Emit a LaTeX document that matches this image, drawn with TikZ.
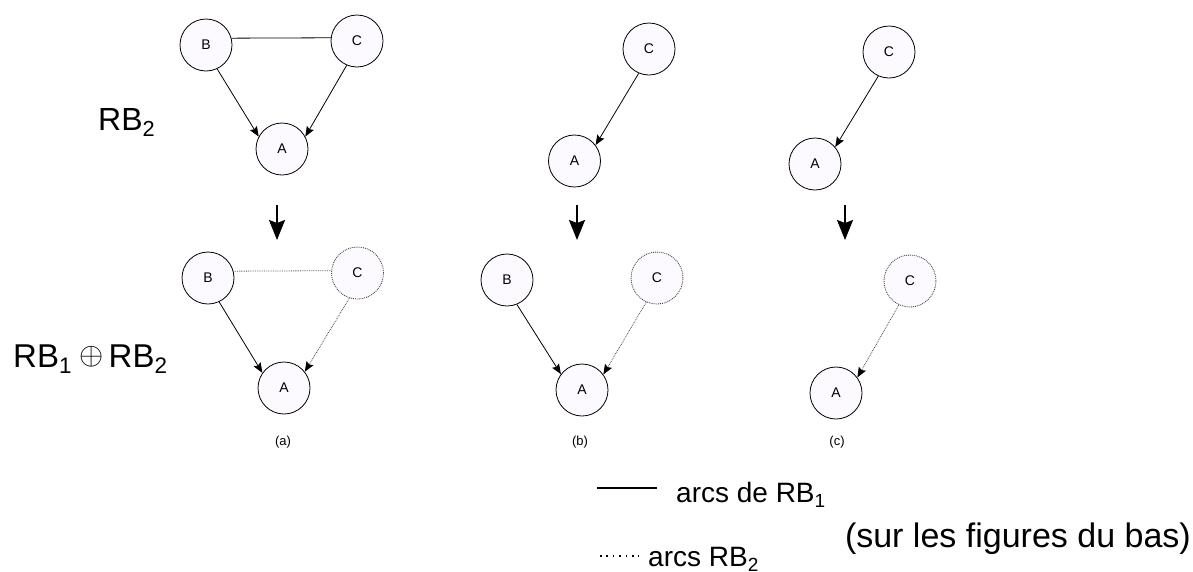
\documentclass[tikz,border=0pt]{standalone}
\usepackage{fontspec}
\setmainfont{Liberation Sans}
\usepackage{graphicx}
\usetikzlibrary{arrows.meta}
\definecolor{nodefill}{RGB}{253,250,255}
\definecolor{dotgray}{RGB}{70,70,70}
\newcommand\dn[1]{\raisebox{-0.2em}{\scalebox{0.68}{#1}}}
\begin{document}
\begin{tikzpicture}[x=1pt,y=-1pt,
  bn/.style={circle, draw, line width=0.8pt, fill=nodefill, minimum size=52pt, inner sep=0pt, font=\fontsize{14}{14}\selectfont},
  bnd/.style={bn, draw=dotgray, line width=0.9pt, densely dotted},
  arc/.style={line width=0.8pt, -{Stealth[length=10pt,width=8pt,inset=1.5pt,color=black]}},
  arcd/.style={arc, draw=dotgray, densely dotted},
  plainarc/.style={line width=0.8pt},
  plainarcd/.style={line width=0.8pt, draw=dotgray, densely dotted},
  bigarrow/.style={line width=2pt, -{Stealth[length=20pt,width=16pt,inset=3pt]}},
  lbl/.style={inner sep=0pt, anchor=base west},
  sublbl/.style={inner sep=0pt, anchor=base, font=\fontsize{13}{13}\selectfont}
]
\useasboundingbox (0,0) rectangle (1193,571);

% ---- top row ----
\node[bn] (Ba) at (206,45) {B};
\node[bn] (Ca) at (357,41) {C};
\node[bn] (Aa) at (282,149) {A};
\draw[plainarc] (Ba.15) -- (Ca.173);
\draw[arc] (Ba.-65) -- (Aa.152);
\draw[arc] (Ca.-113) -- (Aa.28);

\node[bn] (Cb) at (649,49) {C};
\node[bn] (Ab) at (574.5,161) {A};
\draw[arc] (Cb.-113) -- (Ab.37);

\node[bn] (Cc) at (889,52) {C};
\node[bn] (Ac) at (815,164) {A};
\draw[arc] (Cc.-114) -- (Ac.40);

% ---- transition arrows ----
\coordinate (ta1) at (277,205); \coordinate (ta2) at (277,240);
\coordinate (tb1) at (577,205); \coordinate (tb2) at (577,240);
\coordinate (tc1) at (845,205); \coordinate (tc2) at (845,240);
\draw[bigarrow] (ta1) -- (ta2);
\draw[bigarrow] (tb1) -- (tb2);
\draw[bigarrow] (tc1) -- (tc2);

% ---- bottom row ----
\node[bn] (B1) at (208,278) {B};
\node[bnd] (C1) at (357.5,273) {C};
\node[bn] (A1) at (284,388) {A};
\draw[plainarcd] (B1.15) -- (C1.175);
\draw[arc] (B1.-65) -- (A1.145);
\draw[arcd] (C1.-108) -- (A1.38);

\node[bn] (B2) at (507,280) {B};
\node[bnd] (C2) at (657,278) {C};
\node[bn] (A2) at (582,390) {A};
\draw[arc] (B2.-68) -- (A2.143);
\draw[arcd] (C2.-114) -- (A2.36);

\node[bnd] (C3) at (910,281) {C};
\node[bn] (A3) at (836,393) {A};
\draw[arcd] (C3.-115) -- (A3.36);

% ---- sub-captions ----
\node[sublbl] (capa) at (283,445.5) {(a)};
\node[sublbl] (capb) at (580,445.5) {(b)};
\node[sublbl] (capc) at (837,445.5) {(c)};

% ---- row labels ----
\node[lbl, font=\fontsize{32}{32}\selectfont] (rb2) at (98,130) {RB\dn{2}};
\node[lbl, font=\fontsize{33}{33}\selectfont] (rbsum) at (13,367) {RB\dn{1}\hspace{8pt}\raisebox{0.08em}{\scalebox{1.25}{$\oplus$}}\hspace{5pt}RB\dn{2}};

% ---- legend ----
\coordinate (l1a) at (597,488); \coordinate (l1b) at (657,488);
\coordinate (l2a) at (600,556); \coordinate (l2b) at (639,556);
\draw[line width=2pt] (l1a) -- (l1b);
\draw[line width=1.6pt, dash pattern=on 1.6pt off 4.8pt] (l2a) -- (l2b);
\node[lbl, font=\fontsize{28}{28}\selectfont] (leg1) at (676,502) {arcs de RB\dn{1}};
\node[lbl, font=\fontsize{28}{28}\selectfont] (leg2) at (648,566) {arcs RB\dn{2}};
\node[inner sep=0pt, anchor=base east, font=\fontsize{34}{34}\selectfont] (leg3) at (1191,547) {(sur les figures du bas)};
\end{tikzpicture}
\end{document}
